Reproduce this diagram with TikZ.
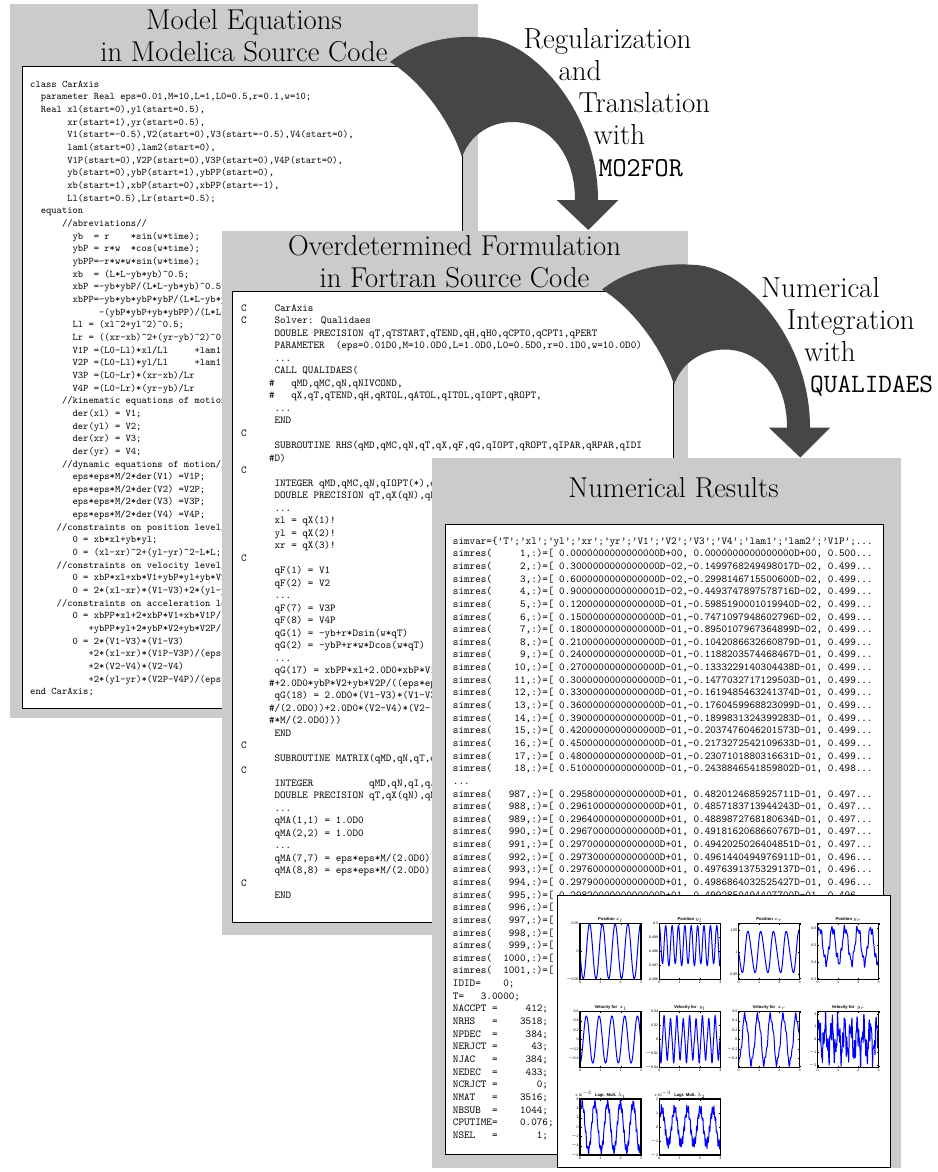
\documentclass[tikz,border=0pt]{standalone}
\usepackage{fontspec}
\newfontfamily\plotfont{Liberation Sans}
\definecolor{panelgray}{RGB}{203,203,203}
\definecolor{arrowgray}{RGB}{70,70,70}
\definecolor{plotblue}{RGB}{0,0,255}

% code fonts of the three listings
\newcommand{\cdA}{\fontsize{10.1}{12.66}\selectfont\ttfamily}
\newcommand{\cdB}{\fontsize{10.6}{12.5}\selectfont\ttfamily}
\newcommand{\cdC}{\fontsize{10.66}{12.64}\selectfont\ttfamily}
\newcommand{\ca}{\textasciicircum}
% n blank columns of a monospaced listing
\newcommand{\s}[1]{\hspace*{#1\fontcharwd\font`0}}

\tikzset{
  panel/.style={fill=panelgray,draw=none},
  codebox/.style={fill=white,draw=black,line width=1pt},
  heading/.style={font=\fontsize{28.7}{32}\selectfont,inner sep=0pt},
  steplabel/.style={font=\fontsize{28.9}{32}\selectfont,inner sep=0pt,anchor=base west},
  listing/.style={inner sep=0pt,anchor=north west},
  bigarrow/.style={fill=arrowgray,draw=none},
  plotcurve/.style={draw=plotblue,line width=1pt,line join=round},
  axisframe/.style={draw=black,line width=1.1pt},
  tickmark/.style={draw=black,line width=0.3pt},
  ticklab/.style={font=\plotfont\fontsize{3.6}{4}\selectfont,inner sep=0.3pt},
  plottitle/.style={font=\plotfont\bfseries\fontsize{4.2}{5}\selectfont,inner sep=0pt},
  declare function={sn(\a)=sin(deg(mod(\a,6.283185)));},
}

% curved block arrow, drawn at its first place and shifted by (#1,#2)
\newcommand{\bentarrow}[2]{%
  \fill[bigarrow,shift={(#1,#2)}] (390,62)
    .. controls (415,42) and (450,35) .. (480,37.3)
    .. controls (530,37) and (598,110) .. (598,200)
    -- (618.3,200) -- (588.3,230) -- (556.7,200) -- (575,200)
    .. controls (575,150) and (545,122) .. (513,122)
    .. controls (490,122) and (470,135) .. (462,157)
    .. controls (450,120) and (420,80) .. (390,62) -- cycle;
}

% one MATLAB-style subplot: #1 name, #2 left x, #3 bottom y, #4 curve (0..1 of height) in \xv,
% #5 list of tick height/label, #6 title
\newcommand{\subplot}[6]{%
  \begin{scope}
    \clip (#2,#3) rectangle ++(61,-56);
    \draw[plotcurve] plot[domain=0:3,samples=300,variable=\xv] ({#2+\xv*61/3},{#3-56*(#4)});
  \end{scope}
  \draw[axisframe] (#2,#3) rectangle ++(61,-56);
  \foreach \uu/\lab [count=\i] in {#5}{
    \draw[tickmark] (#2,{#3-56*\uu}) -- ++(1.5,0);
    \draw[tickmark] (#2+61,{#3-56*\uu}) -- ++(-1.5,0);
    \node[ticklab,anchor=east] (#1y\i) at (#2-0.8,{#3-56*\uu}) {\lab};
  }
  \foreach \k in {0,1,2,3}{
    \draw[tickmark] ({#2+\k*61/3},#3) -- ++(0,-1.5);
    \draw[tickmark] ({#2+\k*61/3},#3-56) -- ++(0,1.5);
    \node[ticklab,anchor=north] (#1x\k) at ({#2+\k*61/3},#3+1.4) {\k};
  }
  \node[plottitle,anchor=base] (#1t) at (#2+30.5,#3-58.5) {#6};
}

\begin{document}
\begin{tikzpicture}[x=1pt,y=-1pt]
\useasboundingbox[fill=white] (0,0) rectangle (937,1172);

% ---------------- Modelica model ----------------
\fill[panel] (10,4) rectangle (478,718);
\node[heading,anchor=base] (h1a) at (244,30) {Model Equations};
\node[heading,anchor=base] (h1b) at (244,61.5) {in Modelica Source Code};
\draw[codebox] (22,66.7) rectangle (462,708);
\begin{scope}
\clip (22,66.7) rectangle (462,708);
\node[listing] (code1) at (30,{87-0.7*12.66}) {\cdA\begin{tabular}{@{}l@{}}
class CarAxis\\
\s{2}parameter Real eps=0.01,M=10,L=1,L0=0.5,r=0.1,w=10;\\
\s{2}Real xl(start=0),yl(start=0.5),\\
\s{7}xr(start=1),yr(start=0.5),\\
\s{7}V1(start=-0.5),V2(start=0),V3(start=-0.5),V4(start=0),\\
\s{7}lam1(start=0),lam2(start=0),\\
\s{7}V1P(start=0),V2P(start=0),V3P(start=0),V4P(start=0),\\
\s{7}yb(start=0),ybP(start=1),ybPP(start=0),\\
\s{7}xb(start=1),xbP(start=0),xbPP(start=-1),\\
\s{7}Ll(start=0.5),Lr(start=0.5);\\
\s{2}equation\\
\s{6}//abreviations//\\
\s{8}yb\s{2}= r\s{4}*sin(w*time);\\
\s{8}ybP = r*w\s{2}*cos(w*time);\\
\s{8}ybPP=-r*w*w*sin(w*time);\\
\s{8}xb\s{2}= (L*L-yb*yb)\ca0.5;\\
\s{8}xbP =-yb*ybP/(L*L-yb*yb)\ca0.5;\\
\s{8}xbPP=-yb*yb*ybP*ybP/(L*L-yb*y\\
\s{13}-(ybP*ybP+yb*ybPP)/(L*L-\\
\s{8}Ll = (xl\ca2+yl\ca2)\ca0.5;\\
\s{8}Lr = ((xr-xb)\ca2+(yr-yb)\ca2)\ca0.\\
\s{8}V1P =(L0-Ll)*xl/Ll\s{5}+lam1*\\
\s{8}V2P =(L0-Ll)*yl/Ll\s{5}+lam1*\\
\s{8}V3P =(L0-Lr)*(xr-xb)/Lr\\
\s{8}V4P =(L0-Lr)*(yr-yb)/Lr\\
\s{6}//kinematic equations of motion\\
\s{8}der(xl) = V1;\\
\s{8}der(yl) = V2;\\
\s{8}der(xr) = V3;\\
\s{8}der(yr) = V4;\\
\s{6}//dynamic equations of motion//\\
\s{8}eps*eps*M/2*der(V1) =V1P;\\
\s{8}eps*eps*M/2*der(V2) =V2P;\\
\s{8}eps*eps*M/2*der(V3) =V3P;\\
\s{8}eps*eps*M/2*der(V4) =V4P;\\
\s{5}//constraints on position level/\\
\s{8}0 = xb*xl+yb*yl;\\
\s{8}0 = (xl-xr)\ca2+(yl-yr)\ca2-L*L;\\
\s{5}//constraints on velocity level/\\
\s{8}0 = xbP*xl+xb*V1+ybP*yl+yb*V2\\
\s{8}0 = 2*(xl-xr)*(V1-V3)+2*(yl-y\\
\s{5}//constraints on acceleration le\\
\s{8}0 = xbPP*xl+2*xbP*V1+xb*V1P/(\\
\s{11}+ybPP*yl+2*ybP*V2+yb*V2P/(\\
\s{8}0 = 2*(V1-V3)*(V1-V3)\\
\s{11}+2*(xl-xr)*(V1P-V3P)/(eps*\\
\s{11}+2*(V2-V4)*(V2-V4)\\
\s{11}+2*(yl-yr)*(V2P-V4P)/(eps*\\
end CarAxis;
\end{tabular}};
\end{scope}

% first transformation step
\bentarrow{0}{0}
\node[steplabel] (s1a) at (523.3,48.3) {Regularization};
\node[steplabel] (s1b) at (558.3,81) {and};
\node[steplabel] (s1c) at (578.3,112.7) {Translation};
\node[steplabel] (s1d) at (593.3,144) {with};
\node[steplabel] (s1e) at (598.3,176.7) {\fontsize{27.3}{30}\selectfont\ttfamily MO2FOR};

% ---------------- Fortran code ----------------
\fill[panel] (222,231) rectangle (688.3,935);
\node[heading,anchor=base] (h2a) at (454.5,255) {Overdetermined Formulation};
\node[heading,anchor=base] (h2b) at (454.5,287.3) {in Fortran Source Code};
\draw[codebox] (232,291.7) rectangle (673.3,922);
\begin{scope}
\clip (232,291.7) rectangle (673.3,922);
\node[listing] (code2) at (241,{311-0.7*12.5}) {\cdB\begin{tabular}{@{}l@{}}
C\s{5}CarAxis\\
C\s{5}Solver: Qualidaes\\
\s{6}DOUBLE PRECISION qT,qTSTART,qTEND,qH,qH0,qCPT0,qCPT1,qPERT\\
\s{6}PARAMETER\s{2}(eps=0.01D0,M=10.0D0,L=1.0D0,L0=0.5D0,r=0.1D0,w=10.0D0)\\
\s{6}...\\
\s{6}CALL QUALIDAES(\\
\s{5}\#\s{3}qMD,qMC,qN,qNIVCOND,\\
\s{5}\#\s{3}qX,qT,qTEND,qH,qRTOL,qATOL,qITOL,qIOPT,qROPT,\\
\s{6}...\\
\s{6}END\\
C\\
\s{6}SUBROUTINE RHS(qMD,qMC,qN,qT,qX,qF,qG,qIOPT,qROPT,qIPAR,qRPAR,qIDI\\
\s{5}\#D)\\
C\\
\s{6}INTEGER qMD,qMC,qN,qIOPT(*),q\\
\s{6}DOUBLE PRECISION qT,qX(qN),qF\\
\s{6}...\\
\s{6}xl = qX(1)!\\
\s{6}yl = qX(2)!\\
\s{6}xr = qX(3)!\\
C\\
\s{6}qF(1) = V1\\
\s{6}qF(2) = V2\\
\s{6}...\\
\s{6}qF(7) = V3P\\
\s{6}qF(8) = V4P\\
\s{6}qG(1) = -yb+r*Dsin(w*qT)\\
\s{6}qG(2) = -ybP+r*w*Dcos(w*qT)\\
\s{6}...\\
\s{6}qG(17) = xbPP*xl+2.0D0*xbP*V1\\
\s{5}\#+2.0D0*ybP*V2+yb*V2P/((eps*ep\\
\s{6}qG(18) = 2.0D0*(V1-V3)*(V1-V3\\
\s{5}\#/(2.0D0))+2.0D0*(V2-V4)*(V2-\\
\s{5}\#*M/(2.0D0)))\\
\s{6}END\\
C\\
\s{6}SUBROUTINE MATRIX(qMD,qN,qT,qX\\
C\\
\s{6}INTEGER\s{10}qMD,qN,qI,qJ\\
\s{6}DOUBLE PRECISION qT,qX(qN),qM\\
\s{6}...\\
\s{6}qMA(1,1) = 1.0D0\\
\s{6}qMA(2,2) = 1.0D0\\
\s{6}...\\
\s{6}qMA(7,7) = eps*eps*M/(2.0D0)\\
\s{6}qMA(8,8) = eps*eps*M/(2.0D0)\\
C\\
\s{6}END
\end{tabular}};
\end{scope}

% second transformation step
\bentarrow{212}{227.5}
\node[steplabel] (s2a) at (761,297.7) {Numerical};
\node[steplabel] (s2b) at (786.7,329.3) {Integration};
\node[steplabel] (s2c) at (804,361.7) {with};
\node[steplabel] (s2d) at (810,392.7) {\fontsize{26.5}{30}\selectfont\ttfamily QUALIDAES};

% ---------------- simulation results ----------------
\fill[panel] (431.7,457.7) rectangle (901,1168);
\node[heading,anchor=base] (h3) at (673.5,497) {Numerical Results};
\draw[codebox] (445,524) rectangle (883,1154);
\begin{scope}
\clip (445,524) rectangle (883,1154);
\node[listing] (code3) at (452.7,{544-0.7*12.64}) {\cdC\begin{tabular}{@{}l@{}}
simvar=\{’T’;’xl’;’yl’;’xr’;’yr’;’V1’;’V2’;’V3’;’V4’;’lam1’;’lam2’;’V1P’;...\\
simres(\s{5}1,:)=[ 0.0000000000000000D+00, 0.0000000000000000D+00, 0.500...\\
simres(\s{5}2,:)=[ 0.3000000000000000D-02,-0.1499768249498017D-02, 0.499...\\
simres(\s{5}3,:)=[ 0.6000000000000000D-02,-0.2998146715500600D-02, 0.499...\\
simres(\s{5}4,:)=[ 0.9000000000000001D-02,-0.4493747897578716D-02, 0.499...\\
simres(\s{5}5,:)=[ 0.1200000000000000D-01,-0.5985190001019940D-02, 0.499...\\
simres(\s{5}6,:)=[ 0.1500000000000000D-01,-0.7471097948602796D-02, 0.499...\\
simres(\s{5}7,:)=[ 0.1800000000000000D-01,-0.8950107967364899D-02, 0.499...\\
simres(\s{5}8,:)=[ 0.2100000000000000D-01,-0.1042086632660879D-01, 0.499...\\
simres(\s{5}9,:)=[ 0.2400000000000000D-01,-0.1188203574468467D-01, 0.499...\\
simres(\s{4}10,:)=[ 0.2700000000000000D-01,-0.1333229140304438D-01, 0.499...\\
simres(\s{4}11,:)=[ 0.3000000000000000D-01,-0.1477032717129503D-01, 0.499...\\
simres(\s{4}12,:)=[ 0.3300000000000000D-01,-0.1619485463241374D-01, 0.499...\\
simres(\s{4}13,:)=[ 0.3600000000000000D-01,-0.1760459968823099D-01, 0.499...\\
simres(\s{4}14,:)=[ 0.3900000000000000D-01,-0.1899831324399283D-01, 0.499...\\
simres(\s{4}15,:)=[ 0.4200000000000000D-01,-0.2037476046201573D-01, 0.499...\\
simres(\s{4}16,:)=[ 0.4500000000000000D-01,-0.2173272542109633D-01, 0.499...\\
simres(\s{4}17,:)=[ 0.4800000000000000D-01,-0.2307101880316631D-01, 0.499...\\
simres(\s{4}18,:)=[ 0.5100000000000000D-01,-0.2438846541859802D-01, 0.498...\\
...\\
simres(\s{3}987,:)=[ 0.2958000000000000D+01, 0.4820124685925711D-01, 0.497...\\
simres(\s{3}988,:)=[ 0.2961000000000000D+01, 0.4857183713944243D-01, 0.497...\\
simres(\s{3}989,:)=[ 0.2964000000000000D+01, 0.4889872768180634D-01, 0.497...\\
simres(\s{3}990,:)=[ 0.2967000000000000D+01, 0.4918162068660767D-01, 0.497...\\
simres(\s{3}991,:)=[ 0.2970000000000000D+01, 0.4942025026404851D-01, 0.497...\\
simres(\s{3}992,:)=[ 0.2973000000000000D+01, 0.4961440494976911D-01, 0.496...\\
simres(\s{3}993,:)=[ 0.2976000000000000D+01, 0.4976391375329137D-01, 0.496...\\
simres(\s{3}994,:)=[ 0.2979000000000000D+01, 0.4986864032525427D-01, 0.496...\\
simres(\s{3}995,:)=[ 0.2982000000000000D+01, 0.4992850494407700D-01, 0.496...\\
simres(\s{3}996,:)=[\\
simres(\s{3}997,:)=[\\
simres(\s{3}998,:)=[\\
simres(\s{3}999,:)=[\\
simres(\s{2}1000,:)=[\\
simres(\s{2}1001,:)=[\\
IDID=\s{4}0;\\
T=\s{3}3.0000;\\
NACCPT =\s{5}412;\\
NRHS\s{3}=\s{4}3518;\\
NPDEC\s{2}=\s{5}384;\\
NERJCT =\s{6}43;\\
NJAC\s{3}=\s{5}384;\\
NEDEC\s{2}=\s{5}433;\\
NCRJCT =\s{7}0;\\
NMAT\s{3}=\s{4}3516;\\
NBSUB\s{2}=\s{4}1044;\\
CPUTIME=\s{4}0.076;\\
NSEL\s{3}=\s{7}1;
\end{tabular}};
\end{scope}

% ---------------- plots of the solution ----------------
\draw[fill=white,draw=black,line width=0.9pt] (557.7,895) rectangle (890,1167);
\subplot{pa}{580}{979.3}{0.5-0.49*sn(10*\xv)}
  {1/0.05,0.5/0,0/$-$0.05}{Position $x_l$}
\subplot{pb}{659.3}{979.3}{0.61+0.35*cos(deg(mod(20*\xv,6.283185)))+0.02*sn(10*\xv)}
  {1/0.5,0.75/0.499,0.5/0.498,0.25/0.497,0/0.496}{Position $y_l$}
\subplot{pc}{738.7}{979.3}{0.488-0.36*sn(10*\xv)+0.04*sn(20*\xv)}
  {0.882/1.05,0.488/1,0.094/0.95}{Position $x_r$}
\subplot{pd}{817.7}{979.3}{(0.2+0.1*sn(10*\xv+0.6)+0.02*sn(40*\xv)+0.012*sn(73*\xv))/0.33}
  {0.909/0.6,0.606/0.5,0.303/0.4,0/0.3}{Position $y_r$}
\subplot{va}{580}{1067.3}{0.496-0.42*cos(deg(mod(10*\xv,6.283185)))}
  {1/0.6,0.832/0.4,0.664/0.2,0.496/0,0.328/$-$0.2,0.16/$-$0.4}{Velocity for~~$x_l$}
\subplot{vb}{659.3}{1067.3}{0.5-0.36*sn(20*\xv)*(1+0.1*sn(10*\xv))+0.04*sn(60*\xv)}
  {1/0.04,0.75/0.02,0.5/0,0.25/$-$0.02,0/$-$0.04}{Velocity for~~$y_l$}
\subplot{vc}{738.7}{1067.3}{0.496+(-0.5*cos(deg(mod(10*\xv,6.283185)))+0.07*sn(30*\xv)+0.04*sn(70*\xv))/1.19}
  {1/0.6,0.832/0.4,0.664/0.2,0.496/0,0.328/$-$0.2,0.16/$-$0.4}{Velocity for~~$x_r$}
\subplot{vd}{817.7}{1067.3}{0.5+(1.1*sn(20*\xv+0.3)+0.7*sn(53*\xv)+0.45*sn(97*\xv+1)+0.25*sn(151*\xv))/4.4}
  {0.955/2,0.727/1,0.5/0,0.273/$-$1,0.045/$-$2}{Velocity for~~$y_r$}
\subplot{la}{580}{1155}{0.5+(5.1*sn(10*\xv+0.6)+0.7*sn(70*\xv)+0.4*sn(131*\xv))/12}
  {1/6,0.833/4,0.667/2,0.5/0,0.333/$-$2,0.167/$-$4,0/$-$6}{Lagr. Mult. $\lambda_1$}
\subplot{lb}{659.3}{1155}{0.5+(1.25*sn(10*\xv+0.3)+0.25*sn(80*\xv)+0.15*sn(141*\xv))/4}
  {1/2,0.75/1,0.5/0,0.25/$-$1,0/$-$2}{Lagr. Mult. $\lambda_2$}
\node[ticklab,anchor=base west] (la-exp) at (575,1096.5) {x 10$^{-3}$};
\node[ticklab,anchor=base west] (lb-exp) at (654.3,1096.5) {x 10$^{-3}$};
\end{tikzpicture}
\end{document}
